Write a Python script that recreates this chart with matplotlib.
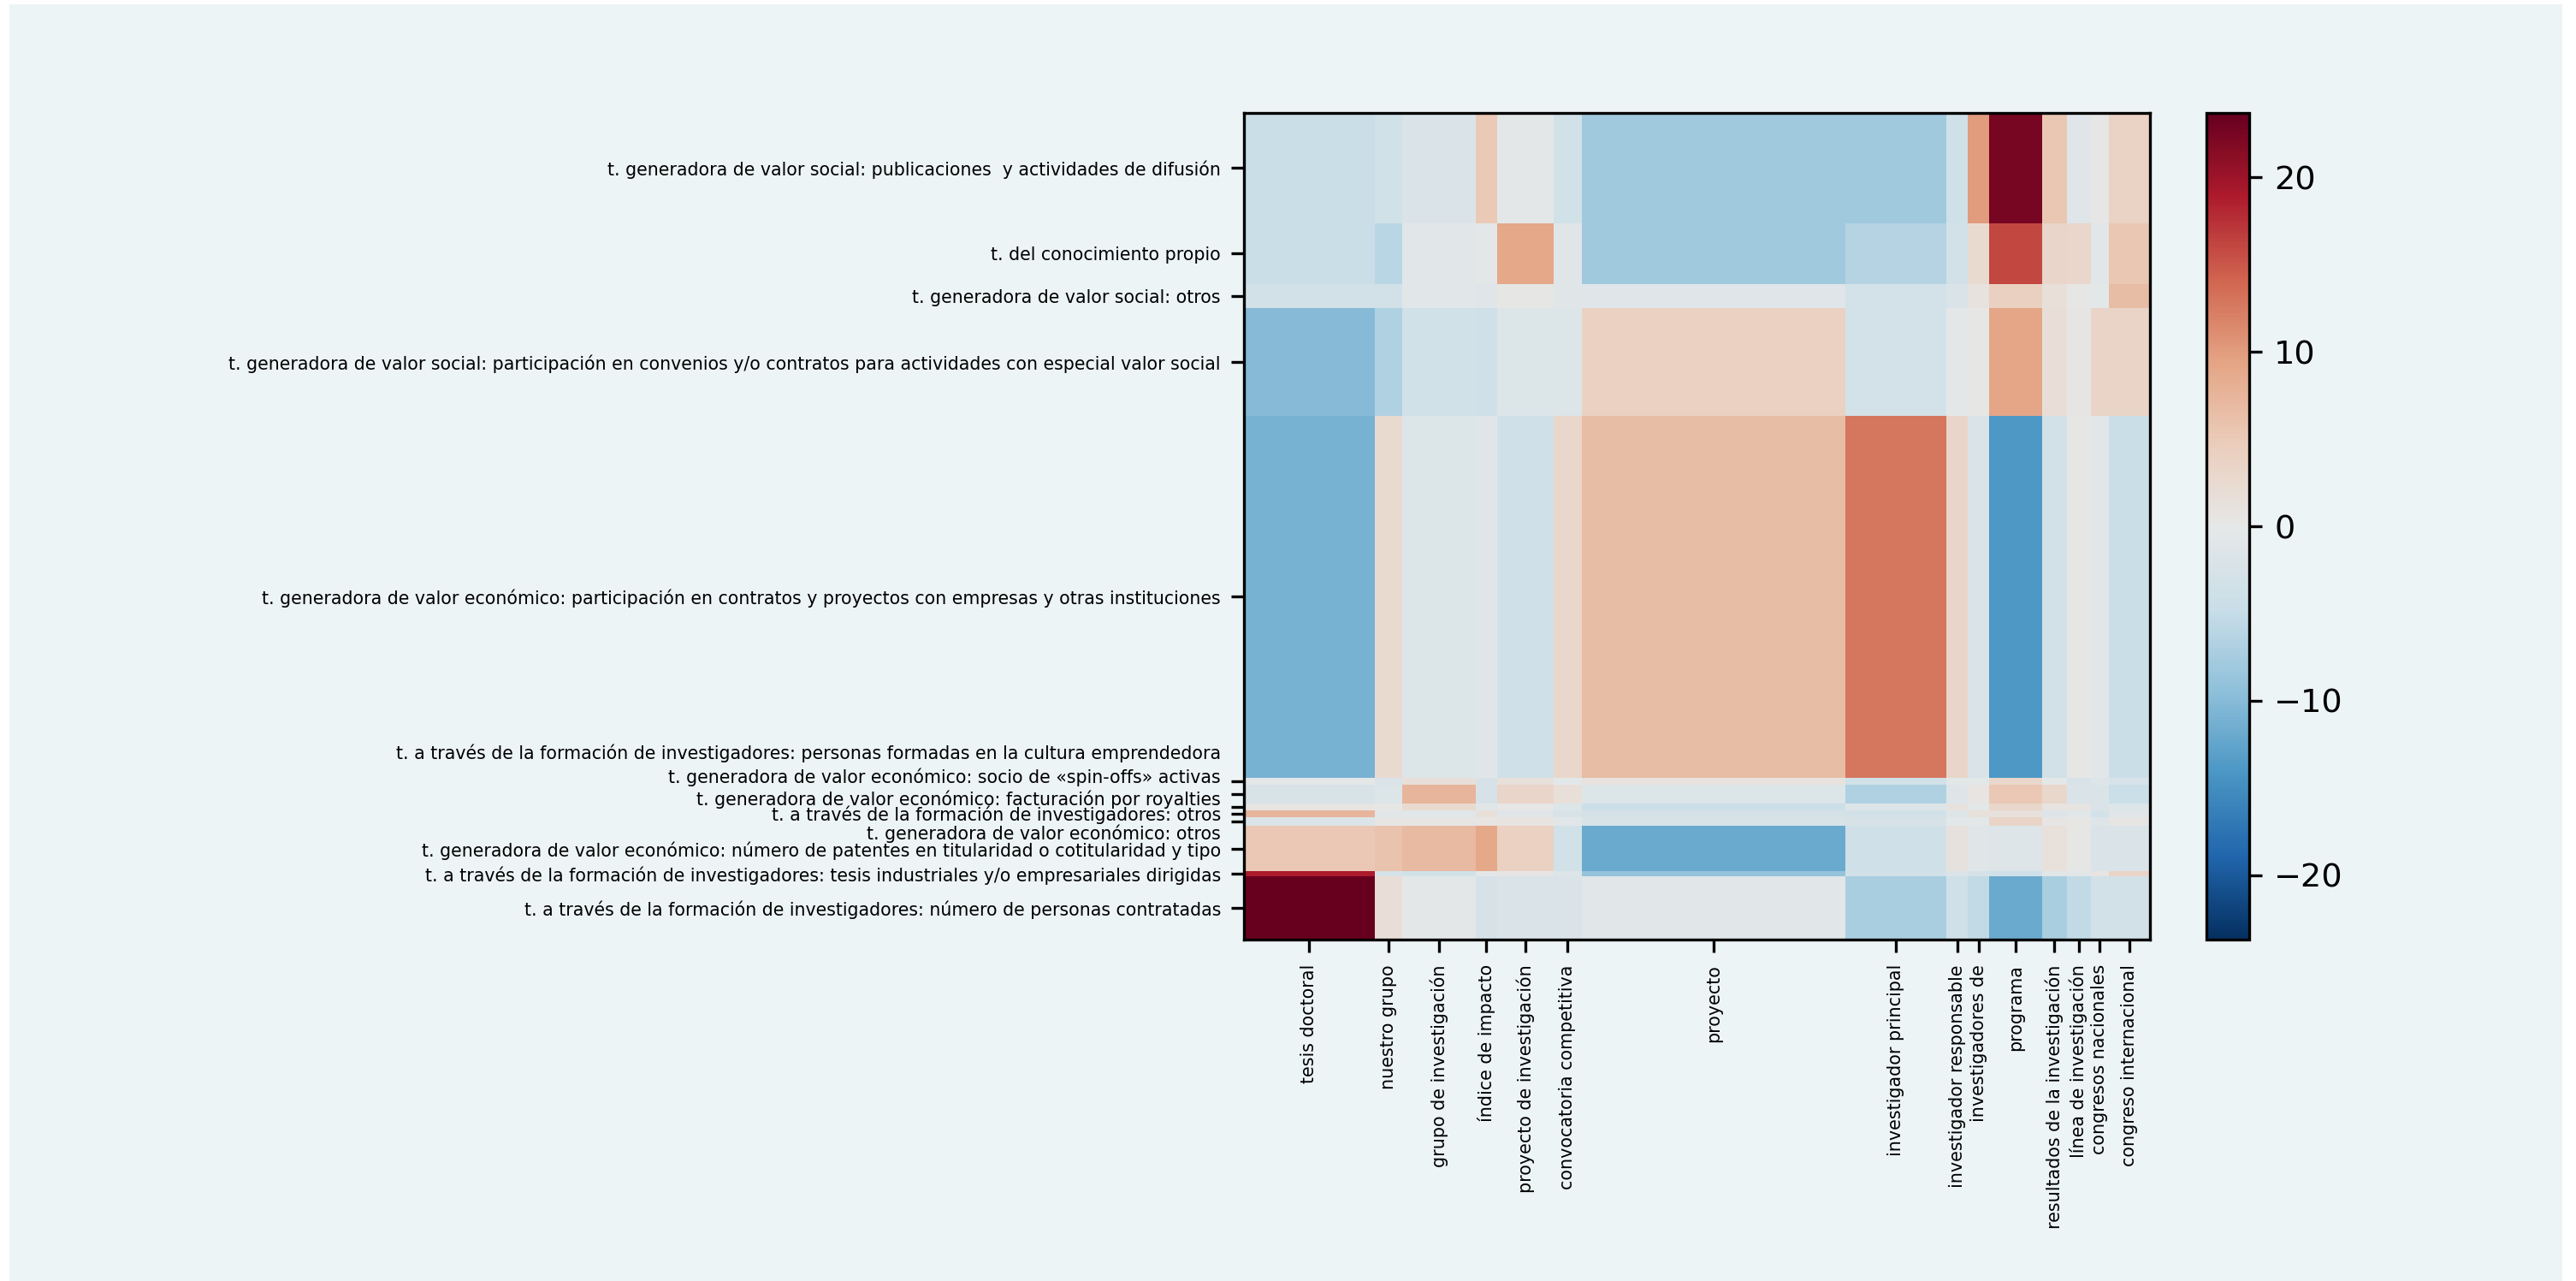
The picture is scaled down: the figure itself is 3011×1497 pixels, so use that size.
import numpy as np
import matplotlib
matplotlib.use("Agg")
import matplotlib.pyplot as plt
from matplotlib.patches import Rectangle
from matplotlib.transforms import ScaledTranslation
from matplotlib.colors import LinearSegmentedColormap

# ---------------- data ----------------
col_labels = [
    "tesis doctoral", "nuestro grupo", "grupo de investigación", "índice de impacto",
    "proyecto de investigación", "convocatoria competitiva", "proyecto",
    "investigador principal", "investigador responsable", "investigadores de",
    "programa", "resultados de la investigación", "línea de investigación",
    "congresos nacionales", "congreso internacional",
]
col_weights = [218, 46, 122, 36, 94, 47, 440, 167, 37, 35, 88, 41, 40, 30, 69]

row_labels = [
    "t. generadora de valor social: publicaciones  y actividades de difusión",
    "t. del conocimiento propio",
    "t. generadora de valor social: otros",
    "t. generadora de valor social: participación en convenios y/o contratos para actividades con especial valor social",
    "t. generadora de valor económico: participación en contratos y proyectos con empresas y otras instituciones",
    "t. a través de la formación de investigadores: personas formadas en la cultura emprendedora",
    "t. generadora de valor económico: socio de «spin-offs» activas",
    "t. generadora de valor económico: facturación por royalties",
    "t. a través de la formación de investigadores: otros",
    "t. generadora de valor económico: otros",
    "t. generadora de valor económico: número de patentes en titularidad o cotitularidad y tipo",
    "t. a través de la formación de investigadores: tesis industriales y/o empresariales dirigidas",
    "t. a través de la formación de investigadores: número de personas contratadas",
]
row_weights = [128.3, 71, 28.7, 125, 422.6, 7.7, 22, 8, 8, 10, 53, 6, 73.7]

row_01 = [-4.5, -3.5, -2.0, 5.0, -0.3, -3.5, -8.0, -8.0, -3.8, 10.0, 22.5, 5.5, -1.2, 0.3, 3.8]
row_02 = [-4.5, -6.0, -0.8, -0.2, 9.0, -1.0, -8.0, -6.3, -3.3, 2.5, 16.0, 3.2, 3.0, -0.8, 5.5]
row_03 = [-3.3, -3.3, -0.8, -1.2, 0.2, -1.0, -1.2, -3.0, -2.2, 1.0, 4.2, 1.5, 0.3, -0.6, 6.5]
row_04 = [-10.0, -6.8, -3.5, -3.8, -1.5, -1.5, 4.0, -3.0, -0.2, 0.2, 9.2, 1.8, 0.4, 3.5, 3.5]
row_05 = [-11.0, 2.5, -1.5, -1.0, -3.8, 3.0, 6.5, 12.8, 3.3, -2.2, -14.0, -3.3, 0.3, -0.8, -4.5]
row_06 = [-0.3, -2.2, 1.5, -2.6, 1.3, -0.6, 1.0, -3.5, -0.7, -0.7, 3.0, -0.2, -2.5, -1.3, -2.5]
row_07 = [-2.4, -1.6, 7.5, -2.6, 3.3, 1.5, -1.6, -6.8, -1.3, 0.6, 5.2, 3.0, -2.2, -2.0, -4.3]
row_08 = [0.6, 0.2, 2.5, -1.1, 0.3, -1.6, -4.3, -1.3, 1.2, -0.7, 3.0, 0.8, 0.8, -2.2, -1.6]
row_09 = [7.5, -0.8, -0.8, 1.5, -1.2, -2.3, -2.8, -3.3, -1.3, 1.3, 1.3, -1.3, -0.8, -3.0, -1.0]
row_10 = [-1.8, 0.4, 0.4, 0.6, 0.8, -0.8, -2.3, -2.6, -0.6, -0.6, 3.5, 0.4, 0.3, -1.3, 0.4]
row_11 = [5.3, 5.8, 7.0, 9.0, 4.0, -3.5, -12.0, -3.6, 1.2, -1.0, -1.3, 1.3, 0.3, -2.0, -2.1]
row_12 = [19.0, -2.6, -3.5, -0.3, 0.4, -1.6, -9.0, -3.3, -1.9, -2.8, -3.6, -0.8, -0.8, 0.6, 3.5]
row_13 = [23.7, 1.8, -0.4, -2.6, -2.0, -2.0, -0.8, -7.3, -3.6, -5.2, -12.0, -7.3, -5.2, -3.3, -3.3]

values = np.array([row_01, row_02, row_03, row_04, row_05, row_06, row_07,
                   row_08, row_09, row_10, row_11, row_12, row_13])

# ---------------- colormap (RdBu_r-like, with a muted grey centre) ----------------
cmap_colors = ["#053061", "#2166ac", "#4a96c4", "#8fc0da", "#c9dee8", "#e6e8e8",
               "#ebcdbb", "#e4a484", "#d0644f", "#ad1b2c", "#67001f"]
cmap = LinearSegmentedColormap.from_list("rdbu_muted", cmap_colors, N=256)

# ---------------- figure ----------------
W, H, DPI = 3011, 1497, 300
fig = plt.figure(figsize=(W / DPI, H / DPI), dpi=DPI, facecolor="white")
bg = "#edf4f6"
fig.patches.append(Rectangle((11 / W, 0), (2995 - 11) / W, (H - 5) / H,
                             transform=fig.transFigure, facecolor=bg,
                             edgecolor="none", zorder=-10))

ax = fig.add_axes([1454 / W, (H - 1098) / H, (2513 - 1454) / W, (1098 - 132) / H])
cax = fig.add_axes([2579 / W, (H - 1098) / H, (2629 - 2579) / W, (1098 - 132) / H])

xedges = np.concatenate([[0], np.cumsum(col_weights)])
yedges = np.concatenate([[0], np.cumsum(row_weights)])
vmax = np.abs(values).max()

mesh = ax.pcolormesh(xedges, yedges, values, cmap=cmap, vmin=-vmax, vmax=vmax)
ax.set_xlim(xedges[0], xedges[-1])
ax.set_ylim(yedges[-1], yedges[0])

xcent = (xedges[:-1] + xedges[1:]) / 2
ycent = (yedges[:-1] + yedges[1:]) / 2
ax.set_xticks(xcent)
ax.set_xticklabels(col_labels, rotation=90, fontsize=4.95)
ax.set_yticks(ycent)
ax.set_yticklabels(row_labels, fontsize=4.93)
ax.tick_params(axis="y", pad=3.0)

# label spreading for the crowded bottom labels (in points, upward positive)
label_shift_pt = [0, 0, 0, 0, 0, 8.3, 5.3, 2.5, 0.2, -2.9, -0.2, 0.0, -0.1]
for lab, dy in zip(ax.get_yticklabels(), label_shift_pt):
    lab.set_transform(lab.get_transform() + ScaledTranslation(0, dy / 72, fig.dpi_scale_trans))

cb = fig.colorbar(mesh, cax=cax)
cb.set_ticks([-20, -10, 0, 10, 20])
cb.ax.tick_params(labelsize=9.2)

fig.savefig("out.png", dpi=DPI, facecolor="white")
